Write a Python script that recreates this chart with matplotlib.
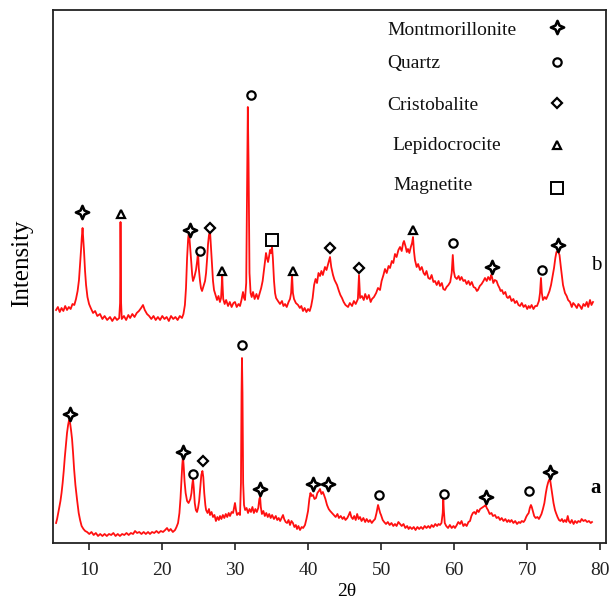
import matplotlib
matplotlib.use("Agg")
import matplotlib.pyplot as plt
from matplotlib.path import Path

plt.rcParams["font.family"] = ["Liberation Serif", "DejaVu Serif"]

# ---------------- data ----------------
# sample b (upper pattern): 2-theta (deg) and intensity (a.u., offset)
b_theta = [
    5.45, 5.7, 5.95, 6.2, 6.45, 6.7, 6.95, 7.2, 7.45, 7.7, 7.95, 8.18, 8.4, 8.59, 8.75, 8.87,
    8.97, 9.08, 9.18, 9.28, 9.42, 9.56, 9.75, 9.97, 10.2, 10.52, 10.8, 11.1, 11.47, 11.8, 12.1,
    12.45, 12.84, 13.15, 13.5, 13.8, 14.1, 14.22, 14.28, 14.36, 14.45, 14.75, 15.05, 15.35, 15.6,
    15.9, 16.2, 16.5, 16.8, 17.1, 17.36, 17.6, 17.91, 18.2, 18.5, 18.8, 19.1, 19.4, 19.7, 20.0,
    20.3, 20.6, 20.9, 21.2, 21.5, 21.8, 22.1, 22.4, 22.7, 22.9, 23.1, 23.25, 23.4, 23.55, 23.66,
    23.78, 23.94, 24.1, 24.21, 24.4, 24.62, 24.78, 24.9, 25.0, 25.17, 25.3, 25.45, 25.65, 25.86,
    26.0, 26.15, 26.27, 26.4, 26.54, 26.68, 26.82, 26.95, 27.09, 27.3, 27.5, 27.7, 27.9, 28.05,
    28.15, 28.2, 28.26, 28.35, 28.55, 28.75, 29.01, 29.25, 29.5, 29.75, 29.96, 30.2, 30.45, 30.65,
    30.85, 31.06, 31.2, 31.33, 31.5, 31.62, 31.72, 31.82, 31.95, 32.1, 32.25, 32.43, 32.65, 32.9,
    33.12, 33.35, 33.55, 33.75, 33.94, 34.1, 34.21, 34.35, 34.49, 34.62, 34.76, 34.9, 35.04,
    35.15, 35.31, 35.45, 35.59, 35.85, 36.13, 36.4, 36.6, 36.82, 37.05, 37.3, 37.5, 37.65, 37.78,
    37.9, 38.05, 38.3, 38.6, 38.85, 39.05, 39.28, 39.5, 39.75, 39.97, 40.2, 40.4, 40.6, 40.8,
    41.0, 41.2, 41.4, 41.61, 41.8, 42.0, 42.29, 42.5, 42.75, 42.98, 43.15, 43.39, 43.6, 43.94,
    44.2, 44.4, 44.62, 44.85, 45.1, 45.45, 45.7, 46.0, 46.25, 46.5, 46.8, 46.95, 47.1, 47.35,
    47.6, 47.8, 48.05, 48.3, 48.55, 48.73, 49.0, 49.3, 49.55, 49.83, 50.05, 50.3, 50.51, 50.75,
    51.0, 51.2, 51.45, 51.65, 51.88, 52.1, 52.35, 52.57, 52.8, 53.0, 53.12, 53.35, 53.5, 53.66,
    53.85, 54.05, 54.22, 54.35, 54.48, 54.62, 54.85, 55.05, 55.31, 55.55, 55.8, 55.99, 56.2,
    56.45, 56.68, 56.9, 57.15, 57.36, 57.6, 57.85, 58.05, 58.3, 58.5, 58.73, 58.95, 59.2, 59.45,
    59.65, 59.8, 59.93, 60.1, 60.35, 60.6, 60.79, 61.0, 61.25, 61.47, 61.7, 61.95, 62.16, 62.4,
    62.65, 62.9, 63.1, 63.25, 63.5, 63.75, 64.0, 64.21, 64.45, 64.65, 64.9, 65.05, 65.17, 65.35,
    65.55, 65.8, 65.99, 66.2, 66.35, 66.54, 66.75, 67.0, 67.2, 67.36, 67.6, 67.85, 68.1, 68.32,
    68.55, 68.8, 69.01, 69.25, 69.5, 69.75, 70.0, 70.2, 70.38, 70.6, 70.85, 71.1, 71.34, 71.6,
    71.75, 71.88, 72.0, 72.15, 72.4, 72.6, 72.84, 73.05, 73.26, 73.45, 73.67, 73.85, 74.0, 74.21,
    74.42, 74.62, 74.9, 75.17, 75.4, 75.6, 75.86, 76.1, 76.3, 76.54, 76.8, 77.0, 77.23, 77.45,
    77.7, 77.92, 78.15, 78.35, 78.6, 78.8, 79.01,
]
b_int = [
    233, 236, 231, 235, 232, 237, 233, 236, 234, 239, 238, 244, 252, 263, 280, 293,
    305, 315, 303, 292, 272, 258, 246, 239, 235, 230, 232, 227, 229, 224, 227,
    223, 226, 222, 226, 223, 225, 240, 321, 240, 224, 227, 223, 228, 225,
    229, 226, 230, 232, 235, 238, 233, 229, 227, 224, 227, 223, 226, 223, 227,
    224, 226, 222, 227, 224, 226, 223, 227, 225, 229, 238, 255, 285, 305, 311,
    300, 284, 268, 262, 266, 273, 282, 291, 275, 262, 255, 252, 257, 262,
    270, 285, 299, 308, 312, 295, 278, 262, 253, 248, 243, 247, 241, 245,
    258, 271, 258, 244, 239, 243, 237, 241, 236, 240, 241, 236, 239, 237,
    243, 251, 245, 243, 260, 360, 436, 380, 270, 250, 246, 251, 244, 249,
    244, 250, 255, 262, 273, 283, 290, 285, 281, 286, 293, 290, 296,
    285, 262, 250, 245, 242, 239, 242, 237, 239, 236, 241, 244, 250, 268,
    250, 244, 240, 238, 235, 237, 232, 235, 231, 234, 232, 237, 245, 258,
    264, 260, 270, 267, 272, 268, 276, 273, 280, 286, 276, 268, 263, 258,
    252, 248, 245, 241, 238, 236, 240, 237, 242, 239, 244, 268, 245, 247,
    243, 249, 244, 248, 241, 244, 246, 250, 255, 253, 262, 268, 274, 270,
    277, 275, 282, 280, 289, 286, 293, 296, 292, 300, 302, 296, 291, 294,
    290, 296, 300, 306, 292, 283, 276, 279, 273, 276, 270, 268, 272,
    265, 264, 268, 261, 262, 258, 262, 257, 260, 254, 253, 256, 258, 261,
    270, 288, 272, 266, 264, 267, 263, 266, 262, 263, 259, 262, 258, 261,
    256, 255, 252, 253, 257, 259, 262, 265, 262, 266, 263, 268, 266, 260,
    263, 262, 258, 255, 252, 253, 249, 251, 246, 245, 247, 242, 244, 240,
    242, 238, 237, 240, 236, 238, 234, 237, 235, 238, 234, 237, 237, 242,
    250, 265, 250, 243, 246, 244, 248, 252, 258, 266, 275, 285, 291, 292,
    288, 275, 258, 250, 247, 243, 241, 236, 240, 238, 235, 239, 237, 234,
    239, 237, 241, 236, 243, 238, 241,
]

# sample a (lower pattern)
a_theta = [
    5.45, 5.59, 5.75, 5.9, 6.05, 6.2, 6.35, 6.5, 6.65, 6.8, 6.95, 7.1, 7.23, 7.37, 7.5, 7.64,
    7.78, 7.92, 8.1, 8.33, 8.55, 8.74, 8.95, 9.2, 9.44, 9.7, 10.0, 10.3, 10.6, 10.9, 11.2, 11.5,
    11.8, 12.1, 12.4, 12.7, 13.0, 13.3, 13.6, 13.9, 14.2, 14.5, 14.8, 15.1, 15.4, 15.7, 16.0,
    16.27, 16.55, 16.85, 17.15, 17.45, 17.75, 18.05, 18.32, 18.6, 18.9, 19.2, 19.5, 19.8, 20.1,
    20.4, 20.65, 20.9, 21.15, 21.45, 21.75, 21.95, 22.16, 22.35, 22.5, 22.62, 22.74, 22.84,
    22.95, 23.05, 23.2, 23.4, 23.6, 23.85, 24.0, 24.1, 24.21, 24.32, 24.45, 24.6, 24.76, 24.9,
    25.05, 25.2, 25.35, 25.5, 25.62, 25.75, 25.9, 26.0, 26.2, 26.4, 26.54, 26.75, 26.95, 27.15,
    27.35, 27.55, 27.75, 27.91, 28.1, 28.3, 28.5, 28.7, 28.9, 29.1, 29.28, 29.5, 29.7, 29.85,
    29.96, 30.1, 30.24, 30.45, 30.65, 30.78, 30.86, 30.92, 30.99, 31.08, 31.2, 31.35, 31.55,
    31.75, 31.95, 32.15, 32.35, 32.55, 32.75, 32.95, 33.15, 33.3, 33.4, 33.5, 33.65, 33.85,
    34.05, 34.25, 34.45, 34.65, 34.85, 35.05, 35.3, 35.55, 35.75, 35.95, 36.15, 36.35, 36.54,
    36.7, 36.9, 37.1, 37.3, 37.5, 37.7, 37.9, 38.1, 38.3, 38.46, 38.65, 38.87, 39.1, 39.3, 39.55,
    39.75, 39.97, 40.15, 40.3, 40.45, 40.65, 40.85, 41.06, 41.25, 41.45, 41.61, 41.8, 42.0,
    42.16, 42.35, 42.57, 42.8, 43.0, 43.25, 43.5, 43.75, 44.0, 44.2, 44.45, 44.7, 44.9, 45.1,
    45.35, 45.55, 45.72, 45.9, 46.1, 46.3, 46.5, 46.7, 46.9, 47.09, 47.3, 47.55, 47.8, 48.0,
    48.25, 48.46, 48.7, 48.9, 49.15, 49.35, 49.56, 49.7, 49.85, 49.97, 50.2, 50.4, 50.65, 50.9,
    51.15, 51.4, 51.65, 51.88, 52.1, 52.35, 52.57, 52.8, 53.05, 53.3, 53.55, 53.75, 53.94, 54.2,
    54.45, 54.7, 54.95, 55.2, 55.45, 55.7, 55.95, 56.2, 56.45, 56.68, 56.9, 57.15, 57.4, 57.65,
    57.85, 58.05, 58.25, 58.42, 58.5, 58.58, 58.7, 58.9, 59.15, 59.4, 59.65, 59.9, 60.1, 60.35,
    60.55, 60.79, 61.0, 61.25, 61.47, 61.7, 61.95, 62.16, 62.35, 62.55, 62.75, 62.95, 63.15,
    63.35, 63.55, 63.75, 63.95, 64.15, 64.3, 64.45, 64.62, 64.85, 65.1, 65.3, 65.58, 65.8, 66.05,
    66.27, 66.5, 66.75, 67.0, 67.25, 67.45, 67.64, 67.85, 68.1, 68.35, 68.6, 68.85, 69.05, 69.25,
    69.5, 69.69, 69.85, 70.0, 70.2, 70.35, 70.5, 70.62, 70.8, 70.95, 71.15, 71.4, 71.6, 71.75,
    71.95, 72.15, 72.35, 72.55, 72.7, 72.84, 72.98, 73.12, 73.3, 73.45, 73.6, 73.8, 73.94, 74.15,
    74.35, 74.55, 74.75, 74.95, 75.15, 75.35, 75.55, 75.7, 75.9, 76.1, 76.35, 76.55, 76.8, 77.0,
    77.25, 77.45, 77.7, 77.95, 78.2, 78.45, 78.7, 78.87,
]
a_int = [
    20, 24, 30, 36, 42, 50, 60, 72, 86, 98, 110, 118, 123, 120, 113, 104,
    90, 74, 58, 43, 30, 23, 17, 14, 12, 11, 9, 11, 8, 10, 7, 9,
    7, 9, 7, 9, 8, 10, 7, 9, 7, 9, 8, 10, 8, 10, 9,
    12, 10, 11, 9, 11, 9, 11, 9, 11, 10, 12, 10, 12, 11,
    13, 15, 12, 14, 11, 13, 16, 20, 30, 45, 62, 78, 87,
    75, 62, 50, 42, 40, 44, 50, 58, 64, 55, 40, 33, 31, 35,
    42, 55, 68, 72, 66, 50, 38, 33, 30, 34, 28, 31, 26, 28,
    22, 26, 23, 27, 24, 28, 25, 29, 26, 30, 27, 31, 30, 36,
    40, 33, 28, 30, 28, 60, 150, 185, 150, 60, 38, 33, 35,
    30, 34, 31, 36, 30, 34, 31, 35, 44, 46, 36, 29, 32,
    27, 30, 26, 29, 25, 28, 24, 27, 23, 25, 22, 25, 28,
    24, 21, 20, 23, 18, 22, 20, 16, 18, 14, 17, 13, 16, 15, 18,
    24, 32, 44, 50, 47, 48, 44, 45, 50, 52, 54, 49, 51,
    48, 44, 38, 34, 32, 30, 28, 26, 29, 25, 27, 24, 26, 23,
    25, 28, 31, 26, 24, 27, 23, 29, 24, 26, 22, 25, 21, 24,
    21, 23, 20, 22, 24, 30, 38, 34, 30, 28, 23, 21, 19, 21,
    18, 20, 17, 19, 17, 21, 19, 17, 19, 15, 17, 14, 16, 14,
    16, 13, 16, 14, 16, 14, 17, 15, 17, 15, 18, 16, 19, 17,
    19, 18, 20, 30, 44, 32, 20, 17, 15, 18, 15, 17, 15, 18,
    21, 19, 22, 17, 19, 17, 21, 22, 27, 30, 31, 29, 33,
    31, 34, 35, 36, 37, 38, 35, 33, 29, 30, 27, 28, 25, 26,
    23, 25, 22, 24, 21, 23, 21, 23, 20, 22, 19, 21, 20, 22,
    21, 23, 26, 28, 30, 35, 38, 36, 31, 27, 25, 26, 24, 26,
    29, 34, 40, 50, 56, 60, 63, 64, 55, 48, 40, 33, 30, 26,
    23, 22, 24, 21, 23, 21, 27, 22, 20, 23, 19, 22, 20, 22,
    21, 24, 22, 23, 21, 22, 20, 21,
]

# phase identification marks above the reflections
b_tag_theta = [8.96, 14.35, 23.83, 25.17, 26.54, 28.19, 32.16, 35.04, 37.91, 42.98, 46.95,
               54.35, 59.83, 65.17, 72.02, 74.21]
b_tag_int = [331, 329, 313, 292, 315, 272, 448, 303, 272, 295, 275, 313, 300, 276, 273, 298]
b_tag_phase = ["Montmorillonite", "Lepidocrocite", "Montmorillonite", "Quartz", "Cristobalite",
               "Lepidocrocite", "Quartz", "Magnetite", "Lepidocrocite", "Cristobalite",
               "Cristobalite", "Lepidocrocite", "Quartz", "Montmorillonite", "Quartz",
               "Montmorillonite"]

a_tag_theta = [7.37, 22.84, 24.21, 25.58, 30.92, 33.4, 40.65, 42.74, 49.69, 58.6, 64.38,
               70.24, 73.12]
a_tag_int = [129, 91, 69, 82, 198, 54, 59, 59, 48, 49, 46, 52, 71]
a_tag_phase = ["Montmorillonite", "Montmorillonite", "Quartz", "Cristobalite", "Quartz",
               "Montmorillonite", "Montmorillonite", "Montmorillonite", "Quartz", "Quartz",
               "Montmorillonite", "Quartz", "Montmorillonite"]

phases = ["Montmorillonite", "Quartz", "Cristobalite", "Lepidocrocite", "Magnetite"]
x_ticks = [10, 20, 30, 40, 50, 60, 70, 80]

# ---------------- styles ----------------
star4 = Path(
    [(0, 1), (0.3, 0.3), (1, 0), (0.3, -0.3), (0, -1), (-0.3, -0.3), (-1, 0), (-0.3, 0.3), (0, 1)],
    [Path.MOVETO] + [Path.LINETO] * 7 + [Path.CLOSEPOLY],
)
phase_style = {
    "Montmorillonite": dict(marker=star4, ms=9.5, mew=1.9),
    "Quartz": dict(marker="o", ms=6.0, mew=1.6),
    "Cristobalite": dict(marker="D", ms=5.0, mew=1.6),
    "Lepidocrocite": dict(marker="^", ms=6.0, mew=1.6),
    "Magnetite": dict(marker="s", ms=8.0, mew=1.4),
}
mark_kw = dict(linestyle="none", mfc="white", mec="black", zorder=5, clip_on=False)

# ---------------- figure ----------------
fig = plt.figure(figsize=(6.10, 6.09), dpi=100)
ax = fig.add_axes([53 / 610, 1 - 543 / 609, 553 / 610, 533 / 609])

ax.plot(b_theta, b_int, color="#ff1010", lw=1.3, zorder=2)
ax.plot(a_theta, a_int, color="#ff1010", lw=1.3, zorder=2)

for th, it, ph in zip(b_tag_theta, b_tag_int, b_tag_phase):
    ax.plot([th], [it], **phase_style[ph], **mark_kw)
for th, it, ph in zip(a_tag_theta, a_tag_int, a_tag_phase):
    ax.plot([th], [it], **phase_style[ph], **mark_kw)

ax.set_xlim(5.03, 80.79)
ax.set_ylim(0, 533)
ax.set_xticks(x_ticks)
ax.set_yticks([])
ax.tick_params(axis="x", direction="out", length=5, width=1.2, pad=9,
               labelsize=14, colors="#222222")
for side in ["left", "right", "top", "bottom"]:
    ax.spines[side].set_linewidth(1.3)
    ax.spines[side].set_color("#222222")

# phase key (text + symbol)
text_x = [0.604, 0.604, 0.604, 0.613, 0.615]
text_y = [0.953, 0.891, 0.812, 0.737, 0.662]
sym_y = [0.968, 0.902, 0.8255, 0.747, 0.666]
for ph, tx, ty, sy in zip(phases, text_x, text_y, sym_y):
    ax.text(tx, ty, ph, transform=ax.transAxes, fontsize=14, ha="left", va="baseline",
            color="#111111")
    ax.plot([0.911], [sy], transform=ax.transAxes, **phase_style[ph], **mark_kw)

# pattern labels
ax.text(0.983, 0.520, "b", transform=ax.transAxes, fontsize=15, ha="center", va="center")
ax.text(0.981, 0.103, "a", transform=ax.transAxes, fontsize=15, fontweight="bold",
        ha="center", va="center")

fig.text(22 / 610, 1 - 263 / 609, "Intensity", rotation=90, fontsize=18,
         ha="center", va="center")
fig.text(347 / 610, 1 - 591 / 609, "2θ", fontsize=14, ha="center", va="center")

fig.savefig("out.png", dpi=100, facecolor="white")
